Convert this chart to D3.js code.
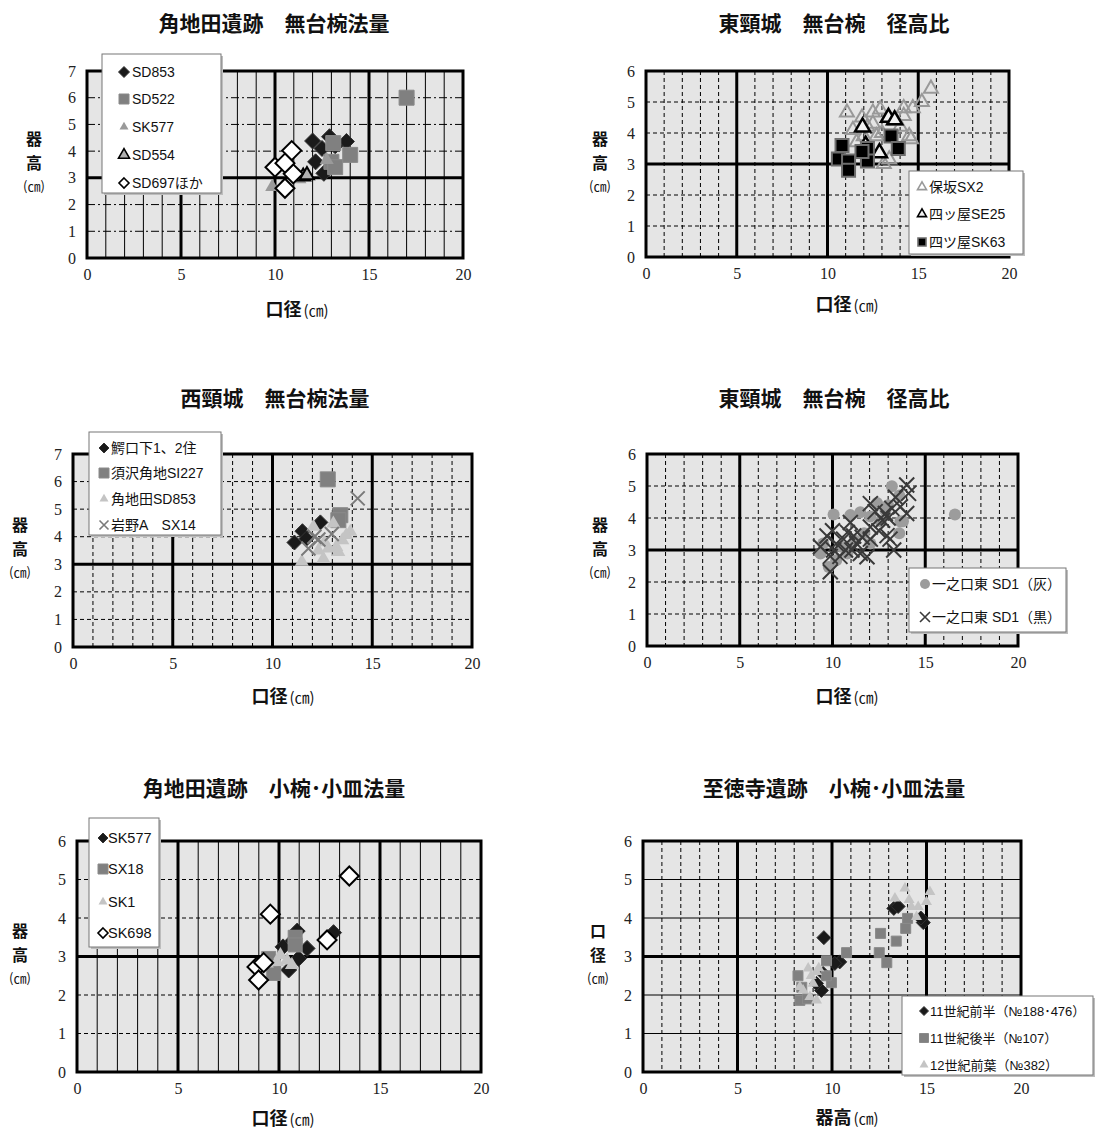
<!DOCTYPE html>
<html>
<head>
<meta charset="utf-8">
<script src="https://cdn.jsdelivr.net/npm/d3@7"></script>
<style>
  body { margin: 0; background: #fff; }
  svg { display: block; }
</style>
</head>
<body>
<svg id="chart"></svg>
<script>
var width = 1104,
  height = 1131;

var xTicks = [0, 5, 10, 15, 20];
var yTicks7 = [0, 1, 2, 3, 4, 5, 6, 7];
var yTicks6 = [0, 1, 2, 3, 4, 5, 6];

// 角地田遺跡　無台椀法量  [口径, 器高]
var kdSD853 = [[12.0, 4.38], [12.9, 4.54], [13.8, 4.36], [12.16, 3.6], [12.6, 3.17], [12.5, 4.1], [13.2, 4.2]];
var kdSD522 = [[17.0, 6.0], [13.1, 4.3], [14.0, 3.86], [13.0, 3.6], [13.2, 3.4]];
var kdSK577 = [[9.85, 2.66], [12.75, 3.67], [11.3, 2.95], [10.4, 2.66]];
var kdSD554 = [[11.5, 3.05], [11.7, 3.1]];
var kdSD697 = [[10.89, 4.02], [10.0, 3.4], [10.97, 3.15], [10.53, 2.61], [10.53, 3.55]];

// 東頸城　無台椀　径高比 (上)
var hoSX2 = [[11.07, 4.66], [15.7, 5.43], [15.2, 5.0], [14.7, 4.8], [14.2, 4.8], [14.2, 4.55], [12.9, 4.76], [12.5, 4.66],
  [11.9, 4.5], [14.5, 3.9], [14.6, 3.8], [13.4, 3.15], [13.1, 3.0], [11.6, 3.7], [12.5, 4.3], [13.75, 4.4], [11.4, 4.1],
  [12.2, 4.2], [13.0, 4.0], [12.7, 3.9], [14.0, 4.2], [12.0, 3.9]];
var yoSE25 = [[11.93, 4.19], [13.36, 4.5], [13.7, 4.42], [12.86, 3.36], [12.1, 3.6]];
var yoSK63 = [[10.8, 3.6], [10.6, 3.16], [11.16, 3.1], [11.16, 2.8], [12.2, 3.5], [12.2, 3.1], [13.5, 3.9], [13.9, 3.5], [11.9, 3.4]];

// 西頸城　無台椀法量
var waniguchi = [[11.1, 3.79], [11.5, 4.2], [11.7, 3.93], [12.4, 4.52]];
var suzawa = [[12.77, 6.08], [13.4, 4.78], [13.3, 4.6]];
var kdSD853b = [[11.47, 3.09], [12.55, 3.2], [13.9, 4.18], [13.05, 4.48], [12.05, 4.36], [13.2, 3.63], [12.8, 3.57],
  [13.7, 4.06], [12.3, 3.5], [13.5, 3.87], [13.3, 3.45], [12.6, 3.8]];
var iwano = [[14.27, 5.39], [11.8, 3.57], [12.3, 3.9], [12.1, 4.0], [12.97, 4.1]];

// 東頸城　無台椀　径高比 (中)
var ichiGray = [[10.06, 4.11], [16.6, 4.11], [13.2, 4.99], [10.96, 4.09], [11.5, 4.18], [12.04, 4.05], [12.4, 4.47],
  [13.66, 3.89], [13.8, 3.9], [13.6, 3.52], [13.6, 4.7], [9.35, 2.89], [9.8, 2.47], [10.2, 2.68], [10.8, 2.89],
  [11.7, 3.52], [12.04, 3.2], [9.5, 3.2], [12.85, 4.23], [10.5, 3.1], [11.2, 3.3], [12.6, 3.9], [13.0, 4.4]];
var ichiBlack = [[14.0, 5.03], [14.1, 4.77], [14.0, 4.14], [13.66, 4.35], [13.4, 4.65], [12.85, 4.14], [12.7, 3.93],
  [12.04, 4.45], [12.94, 3.45], [13.1, 3.34], [11.86, 2.79], [12.04, 3.72], [9.88, 2.32], [9.35, 3.1], [9.7, 3.44],
  [10.06, 3.0], [10.2, 3.2], [10.6, 3.34], [10.8, 3.55], [10.96, 3.86], [11.14, 3.44], [11.3, 3.2], [11.05, 3.0],
  [10.4, 2.8], [11.5, 2.89], [9.88, 2.8], [12.04, 3.34], [12.3, 4.2], [13.0, 4.0], [13.2, 4.3], [12.5, 3.6],
  [10.0, 3.6], [11.6, 3.4], [10.7, 3.0], [13.3, 3.0]];

// 角地田遺跡　小椀･小皿法量
var smSK577 = [[12.7, 3.62], [10.9, 3.66], [11.39, 3.21], [10.97, 2.95], [10.48, 2.65], [10.56, 3.34], [10.2, 3.25]];
var smSX18 = [[10.8, 3.5], [10.8, 3.3], [9.74, 2.56], [9.49, 2.95]];
var smSK1 = [[10.07, 3.04], [10.64, 2.78], [10.4, 2.9], [9.9, 2.86], [9.4, 2.82]];
var smSK698 = [[13.48, 5.09], [9.57, 4.1], [12.38, 3.43], [8.91, 2.73], [9.24, 2.84], [8.99, 2.39]];

// 至徳寺遺跡　小椀･小皿法量  [器高, 口径]
var c11a = [[9.57, 3.49], [13.27, 4.25], [14.83, 3.88], [10.41, 2.86], [10.15, 2.82], [9.53, 2.56], [9.44, 2.12],
  [9.18, 2.3], [13.5, 4.3], [14.7, 4.0]];
var c11b = [[10.77, 3.1], [9.71, 2.89], [9.97, 2.32], [8.2, 2.5], [8.3, 1.86], [12.57, 3.6], [13.4, 3.4], [12.5, 3.1],
  [12.9, 2.84], [13.9, 3.73], [14.0, 3.99], [8.4, 2.2], [8.7, 1.9], [9.7, 2.5]];
var c12a = [[13.86, 4.77], [13.33, 4.51], [14.08, 4.47], [15.18, 4.68], [15.0, 4.42], [14.56, 4.29], [14.2, 4.29],
  [14.47, 4.03], [8.74, 2.69], [9.18, 2.6], [8.47, 2.12], [8.83, 1.95], [9.18, 1.86], [8.3, 2.21], [9.0, 2.3],
  [8.9, 2.5], [9.3, 2.7]];

// marker styles
var marks = {
  bDia: { type: d3.symbolDiamond2, fill: "#1a1a1a", stroke: "#333", sw: 1 },
  wDia: { type: d3.symbolDiamond2, fill: "#fff", stroke: "#000", sw: 2 },
  gSq: { type: d3.symbolSquare, fill: "#808080", stroke: "#8a8a8a", sw: 1 },
  gTri: { type: d3.symbolTriangle, fill: "#9a9a9a", stroke: "none", sw: 0 },
  lTri: { type: d3.symbolTriangle, fill: "#c4c4c4", stroke: "none", sw: 0 },
  oTri: { type: d3.symbolTriangle, fill: "#b0b0b0", stroke: "#000", sw: 2 },
  goTri: { type: d3.symbolTriangle, fill: "none", stroke: "#999", sw: 2 },
  boTri: { type: d3.symbolTriangle, fill: "#f2f2f2", stroke: "#000", sw: 2.5 },
  bSq: { type: d3.symbolSquare, fill: "#000", stroke: "#6e6e6e", sw: 2 },
  gCirc: { type: d3.symbolCircle, fill: "#9c9c9c", stroke: "none", sw: 0 },
  gX: { type: d3.symbolTimes, fill: "none", stroke: "#7a7a7a", sw: 2 },
  dX: { type: d3.symbolTimes, fill: "none", stroke: "#3a3a3a", sw: 2 }
};

function symSize(type, px) {
  if (type === d3.symbolDiamond2) return Math.pow(px / 1.2525, 2);
  if (type === d3.symbolSquare) return px * px;
  if (type === d3.symbolTriangle) return 0.433 * px * px;
  if (type === d3.symbolCircle) return Math.PI * px * px / 4;
  if (type === d3.symbolTimes) return Math.pow(px / 2 / 0.6189, 2) + 1.7;
  return px * px;
}

var panels = [
  {
    title: "角地田遺跡　無台椀法量", tx: 274, ty: 23,
    box: [87, 71, 463, 258], ymax: 7, yTicks: yTicks7, vgrid: "solid", hgrid: "dashdot",
    xlab: "口径", xlx: 297, xly: 310, ylab: ["器", "高"], ylx: 34,
    legend: { box: [102, 54, 221, 193], ys: [72, 99, 127, 155, 183], mx: 124, tx: 132, fs: 14 },
    series: [
      { name: "SD853", data: kdSD853, mark: "bDia", px: 16, lpx: 11 },
      { name: "SD522", data: kdSD522, mark: "gSq", px: 15, lpx: 10 },
      { name: "SK577", data: kdSK577, mark: "gTri", px: 14, lpx: 9 },
      { name: "SD554", data: kdSD554, mark: "oTri", px: 14, lpx: 11 },
      { name: "SD697ほか", data: kdSD697, mark: "wDia", px: 19, lpx: 10 }
    ]
  },
  {
    title: "東頸城　無台椀　径高比", tx: 834, ty: 23,
    box: [646, 71, 1009, 257], ymax: 6, yTicks: yTicks6, vgrid: "dash", hgrid: "dash",
    xlab: "口径", xlx: 847, xly: 305, ylab: ["器", "高"], ylx: 600,
    legend: { box: [909, 171, 1023, 254], ys: [187, 214, 242], mx: 922, tx: 929, fs: 14 },
    series: [
      { name: "保坂SX2", data: hoSX2, mark: "goTri", px: 14, lpx: 9 },
      { name: "四ッ屋SE25", data: yoSE25, mark: "boTri", px: 15, lpx: 9 },
      { name: "四ツ屋SK63", data: yoSK63, mark: "bSq", px: 13, lpx: 8 }
    ]
  },
  {
    title: "西頸城　無台椀法量", tx: 275, ty: 398,
    box: [73, 454, 472, 647], ymax: 7, yTicks: yTicks7, vgrid: "dash", hgrid: "dash",
    xlab: "口径", xlx: 283, xly: 697, ylab: ["器", "高"], ylx: 20,
    legend: { box: [89, 432, 221, 535], ys: [448, 473, 499, 525], mx: 104, tx: 111, fs: 14 },
    series: [
      { name: "鰐口下1、2住", data: waniguchi, mark: "bDia", px: 15, lpx: 10 },
      { name: "須沢角地SI227", data: suzawa, mark: "gSq", px: 15, lpx: 10 },
      { name: "角地田SD853", data: kdSD853b, mark: "lTri", px: 14, lpx: 9 },
      { name: "岩野A　SX14", data: iwano, mark: "gX", px: 14, lpx: 9 }
    ]
  },
  {
    title: "東頸城　無台椀　径高比", tx: 834, ty: 398,
    box: [647, 454, 1018, 646], ymax: 6, yTicks: yTicks6, vgrid: "dash", hgrid: "dash",
    xlab: "口径", xlx: 847, xly: 697, ylab: ["器", "高"], ylx: 600,
    legend: { box: [909, 568, 1066, 632], ys: [584, 617], mx: 925, tx: 932, fs: 14 },
    series: [
      { name: "一之口東 SD1（灰）", data: ichiGray, mark: "gCirc", px: 12, lpx: 10 },
      { name: "一之口東 SD1（黒）", data: ichiBlack, mark: "dX", px: 15, lpx: 10 }
    ]
  },
  {
    title: "角地田遺跡　小椀･小皿法量", tx: 274, ty: 788,
    box: [77, 841, 481, 1072], ymax: 6, yTicks: yTicks6, vgrid: "solid", hgrid: "dash",
    xlab: "口径", xlx: 283, xly: 1119, ylab: ["器", "高"], ylx: 20,
    legend: { box: [89, 818, 159, 947], ys: [838, 869, 902, 933], mx: 103, tx: 108, fs: 14.5 },
    series: [
      { name: "SK577", data: smSK577, mark: "bDia", px: 16, lpx: 10 },
      { name: "SX18", data: smSX18, mark: "gSq", px: 14, lpx: 10 },
      { name: "SK1", data: smSK1, mark: "lTri", px: 14, lpx: 9 },
      { name: "SK698", data: smSK698, mark: "wDia", px: 19, lpx: 10 }
    ]
  },
  {
    title: "至徳寺遺跡　小椀･小皿法量", tx: 834, ty: 788,
    box: [643, 841, 1021, 1072], ymax: 6, yTicks: yTicks6, vgrid: "dash", hgrid: "solid",
    xlab: "器高", xlx: 847, xly: 1118, ylab: ["口", "径"], ylx: 598,
    legend: { box: [902, 996, 1093, 1075], ys: [1011, 1038, 1065], mx: 924, tx: 930, fs: 13 },
    series: [
      { name: "11世紀前半（№188･476）", data: c11a, mark: "bDia", px: 14, lpx: 9 },
      { name: "11世紀後半（№107）", data: c11b, mark: "gSq", px: 10, lpx: 9 },
      { name: "12世紀前葉（№382）", data: c12a, mark: "lTri", px: 11, lpx: 9 }
    ]
  }
];

var dashes = { solid: null, dash: "4,3", dashdot: "8,3,2,3" };

var svg = d3.select("#chart")
  .attr("width", width)
  .attr("height", height);

panels.forEach(function (p) {
  var L = p.box[0], T = p.box[1], R = p.box[2], B = p.box[3];
  var x = d3.scaleLinear().domain([0, 20]).range([L, R]);
  var y = d3.scaleLinear().domain([0, p.ymax]).range([B, T]);
  var g = svg.append("g");

  g.append("rect")
    .attr("x", L).attr("y", T)
    .attr("width", R - L).attr("height", B - T)
    .attr("fill", "#e5e5e5");

  // thin grid
  g.selectAll(".vg")
    .data(d3.range(1, 20).filter(function (d) { return d % 5 !== 0; }))
    .enter().append("line")
    .attr("x1", function (d) { return x(d); }).attr("x2", function (d) { return x(d); })
    .attr("y1", T).attr("y2", B)
    .attr("stroke", "#000").attr("stroke-width", 1)
    .attr("stroke-dasharray", dashes[p.vgrid]);
  g.selectAll(".hg")
    .data(d3.range(1, p.ymax).filter(function (d) { return d !== 3; }))
    .enter().append("line")
    .attr("x1", L).attr("x2", R)
    .attr("y1", function (d) { return y(d); }).attr("y2", function (d) { return y(d); })
    .attr("stroke", "#000").attr("stroke-width", 1)
    .attr("stroke-dasharray", dashes[p.hgrid]);

  // heavy grid
  g.selectAll(".vt")
    .data([5, 10, 15])
    .enter().append("line")
    .attr("x1", function (d) { return x(d); }).attr("x2", function (d) { return x(d); })
    .attr("y1", T).attr("y2", B)
    .attr("stroke", "#000").attr("stroke-width", 3);
  g.append("line")
    .attr("x1", L).attr("x2", R)
    .attr("y1", y(3)).attr("y2", y(3))
    .attr("stroke", "#000").attr("stroke-width", 3);

  g.append("rect")
    .attr("x", L).attr("y", T)
    .attr("width", R - L).attr("height", B - T)
    .attr("fill", "none").attr("stroke", "#000").attr("stroke-width", 3);

  // axes (labels only)
  var xa = g.append("g")
    .attr("transform", "translate(0," + B + ")")
    .call(d3.axisBottom(x).tickValues(xTicks).tickFormat(d3.format("d")).tickSize(0).tickPadding(11));
  var ya = g.append("g")
    .attr("transform", "translate(" + L + ",0)")
    .call(d3.axisLeft(y).tickValues(p.yTicks).tickFormat(d3.format("d")).tickSize(0).tickPadding(11));
  [xa, ya].forEach(function (a) {
    a.select(".domain").remove();
    a.selectAll("text")
      .style("font-family", "'Liberation Serif', 'DejaVu Serif', serif")
      .style("font-size", "16px")
      .attr("fill", "#222");
  });

  // points
  p.series.forEach(function (s) {
    var m = marks[s.mark];
    g.selectAll(null)
      .data(s.data)
      .enter().append("path")
      .attr("transform", function (d) { return "translate(" + x(d[0]) + "," + y(d[1]) + ")"; })
      .attr("d", d3.symbol().type(m.type).size(symSize(m.type, s.px)))
      .attr("fill", m.fill)
      .attr("stroke", m.stroke)
      .attr("stroke-width", m.sw)
      .attr("stroke-linejoin", "miter");
  });

  // title
  g.append("text")
    .attr("x", p.tx).attr("y", p.ty).attr("dy", "0.36em")
    .attr("text-anchor", "middle")
    .attr("font-family", "'Noto Sans CJK JP', sans-serif")
    .attr("font-weight", "bold")
    .attr("font-size", 21)
    .attr("fill", "#111")
    .text(p.title);

  // x title
  var xt = g.append("text")
    .attr("x", p.xlx).attr("y", p.xly).attr("dy", "0.36em")
    .attr("text-anchor", "middle")
    .attr("font-family", "'Noto Sans CJK JP', sans-serif")
    .attr("fill", "#111");
  xt.append("tspan").attr("font-weight", "bold").attr("font-size", 18).text(p.xlab);
  xt.append("tspan").attr("font-size", 15).attr("dx", 2).text("(㎝)");

  // y title, stacked vertically
  var cy = (T + B) / 2;
  var yt = g.append("text")
    .attr("text-anchor", "middle")
    .attr("font-family", "'Noto Sans CJK JP', sans-serif")
    .attr("fill", "#111");
  p.ylab.forEach(function (c, i) {
    yt.append("tspan")
      .attr("x", p.ylx).attr("y", cy - 25 + i * 24).attr("dy", "0.36em")
      .attr("font-weight", "bold")
      .attr("font-size", 16)
      .text(c);
  });
  yt.append("tspan")
    .attr("x", p.ylx).attr("y", cy + 22).attr("dy", "0.36em")
    .attr("font-size", 13)
    .text("(㎝)");

  // legend
  var lg = p.legend;
  g.append("rect")
    .attr("x", lg.box[0] + 2).attr("y", lg.box[1] + 2)
    .attr("width", lg.box[2] - lg.box[0]).attr("height", lg.box[3] - lg.box[1])
    .attr("fill", "#bdbdbd");
  g.append("rect")
    .attr("x", lg.box[0]).attr("y", lg.box[1])
    .attr("width", lg.box[2] - lg.box[0]).attr("height", lg.box[3] - lg.box[1])
    .attr("fill", "#fff").attr("stroke", "#777").attr("stroke-width", 1);
  p.series.forEach(function (s, i) {
    var m = marks[s.mark];
    g.append("path")
      .attr("transform", "translate(" + lg.mx + "," + lg.ys[i] + ")")
      .attr("d", d3.symbol().type(m.type).size(symSize(m.type, s.lpx)))
      .attr("fill", m.fill)
      .attr("stroke", m.stroke)
      .attr("stroke-width", Math.min(m.sw, 1.6));
    g.append("text")
      .attr("x", lg.tx).attr("y", lg.ys[i]).attr("dy", "0.36em")
      .attr("font-family", "'Liberation Sans', 'Noto Sans CJK JP', sans-serif")
      .attr("font-size", lg.fs)
      .attr("fill", "#111")
      .text(s.name);
  });
});
</script>
</body>
</html>
